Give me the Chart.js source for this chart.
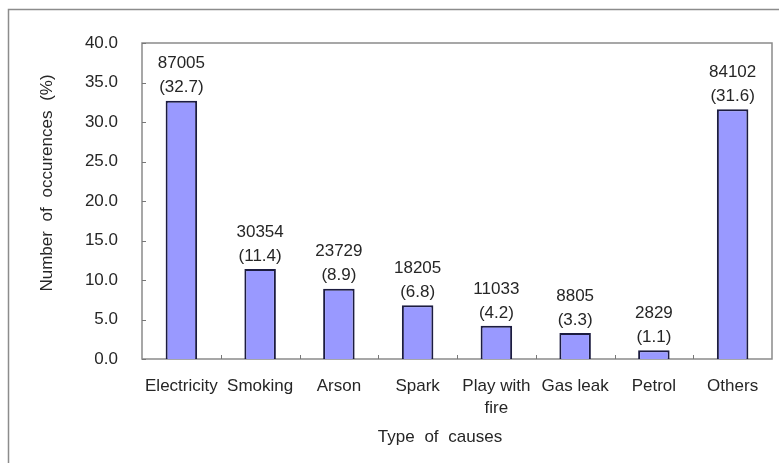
<!DOCTYPE html>
<html>
<head>
<meta charset="utf-8">
<script src="https://cdn.jsdelivr.net/npm/chart.js@4/dist/chart.umd.min.js"></script>
<style>
  html, body { margin: 0; padding: 0; background: #ffffff; }
  #wrap { width: 779px; height: 463px; }
</style>
</head>
<body>
<div id="wrap"><canvas id="c" width="779" height="463"></canvas></div>
<script>
// Fire causes: share of occurrences (%) and raw counts
const causes = ['Electricity', 'Smoking', 'Arson', 'Spark', ['Play with', 'fire'], 'Gas leak', 'Petrol', 'Others'];
const percents = [32.7, 11.4, 8.9, 6.8, 4.2, 3.3, 1.1, 31.6];
const counts = [87005, 30354, 23729, 18205, 11033, 8805, 2829, 84102];
const yTicks = [0, 5, 10, 15, 20, 25, 30, 35, 40];

const FONT = '"Liberation Sans", Arial, sans-serif';
const TEXT = '#262626';
const SIZE = 17;

// Frame, plot box, tick marks, axis titles and value labels
const decor = {
  id: 'decor',
  beforeDatasetsDraw(chart) {
    const { ctx, chartArea: a, scales } = chart;
    ctx.save();
    // outer frame
    ctx.strokeStyle = '#8c8c8c';
    ctx.lineWidth = 1.5;
    ctx.strokeRect(8.5, 9.5, 800, 500);
    // plot box
    ctx.strokeStyle = '#8a8a8a';
    ctx.lineWidth = 1.5;
    ctx.strokeRect(a.left, a.top, a.right - a.left, a.bottom - a.top);
    // y tick marks (inward)
    ctx.strokeStyle = '#777';
    ctx.lineWidth = 1;
    yTicks.forEach(v => {
      const y = Math.round(scales.y.getPixelForValue(v)) + 0.5;
      ctx.beginPath();
      ctx.moveTo(a.left, y);
      ctx.lineTo(a.left + 4, y);
      ctx.stroke();
    });
    // x tick marks between categories
    for (let i = 1; i < causes.length; i++) {
      const x = Math.round((scales.x.getPixelForValue(i - 1) + scales.x.getPixelForValue(i)) / 2) + 0.5;
      ctx.beginPath();
      ctx.moveTo(x, a.bottom);
      ctx.lineTo(x, a.bottom - 4);
      ctx.stroke();
    }
    ctx.restore();
  },
  afterDatasetsDraw(chart) {
    const { ctx } = chart;
    const meta = chart.getDatasetMeta(0);
    ctx.save();
    ctx.fillStyle = TEXT;
    ctx.font = SIZE + 'px ' + FONT;
    ctx.textAlign = 'center';
    ctx.textBaseline = 'middle';
    meta.data.forEach((bar, i) => {
      ctx.fillText(String(counts[i]), bar.x, bar.y - 37);
      ctx.fillText('(' + percents[i].toFixed(1) + ')', bar.x, bar.y - 13);
    });
    // axis titles
    if ('wordSpacing' in ctx) ctx.wordSpacing = '5px';
    ctx.fillText('Type of causes', 440, 437);
    ctx.translate(47, 183);
    ctx.rotate(-Math.PI / 2);
    ctx.fillText('Number of occurences (%)', 0, 0);
    ctx.restore();
  }
};

new Chart(document.getElementById('c'), {
  type: 'bar',
  data: {
    labels: causes,
    datasets: [{
      data: percents,
      backgroundColor: '#9999ff',
      borderColor: '#1c1c40',
      borderWidth: 2,
      borderSkipped: 'bottom',
      barPercentage: 0.4,
      categoryPercentage: 1.0
    }]
  },
  options: {
    responsive: false,
    animation: false,
    devicePixelRatio: 1,
    layout: { padding: { top: 43, right: 7, left: 0, bottom: 0 } },
    plugins: { legend: { display: false }, tooltip: { enabled: false } },
    scales: {
      x: {
        offset: true,
        grid: { display: false, drawTicks: false },
        border: { display: false },
        ticks: {
          color: TEXT,
          font: { family: FONT, size: SIZE, lineHeight: 1.3 },
          padding: 16,
          maxRotation: 0,
          autoSkip: false
        },
        afterFit(scale) { scale.height = 104; }
      },
      y: {
        min: 0,
        max: 40,
        grid: { display: false, drawTicks: false },
        border: { display: false },
        ticks: {
          stepSize: 5,
          color: TEXT,
          font: { family: FONT, size: SIZE },
          padding: 24,
          callback: v => Number(v).toFixed(1)
        },
        afterFit(scale) { scale.width = 142; }
      }
    }
  },
  plugins: [decor]
});
</script>
</body>
</html>
